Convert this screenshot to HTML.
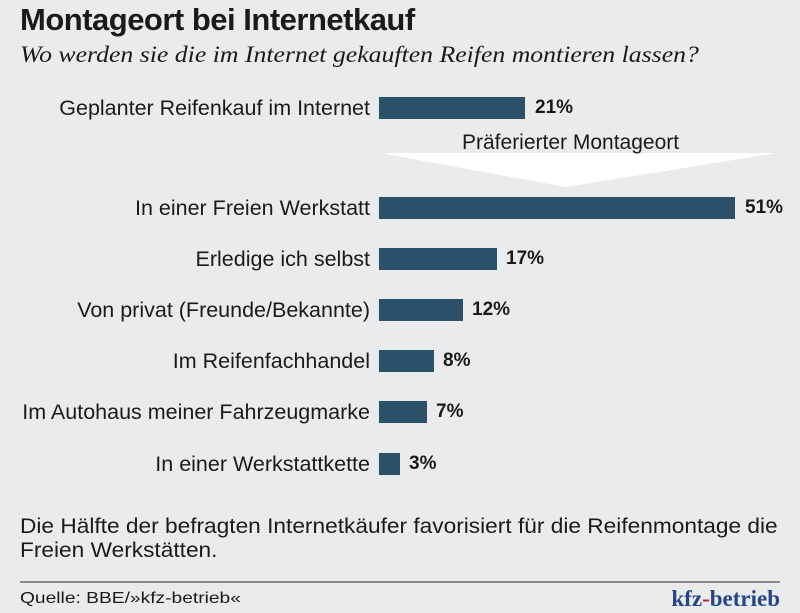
<!DOCTYPE html>
<html><head><meta charset="utf-8"><style>
body{margin:0;width:800px;height:613px;background:#e9ebed;overflow:hidden;position:relative;font-family:"Liberation Sans",sans-serif;color:#1a1a1a}
.a{position:absolute;white-space:nowrap}
.lab{position:absolute;right:430px;font-size:21.5px;line-height:22px}
.bar{position:absolute;left:379px;height:22px;background:#2b5169}
.val{position:absolute;font-size:19px;font-weight:bold;line-height:22px}
</style></head><body>
<div class="a" style="left:20px;top:2px;font-size:31px;font-weight:bold;letter-spacing:-0.5px">Montageort bei Internetkauf</div>
<div class="a" style="left:20px;top:42px;font-size:23px;font-style:italic;font-family:'Liberation Serif',serif;transform:scaleX(1.12);transform-origin:0 0">Wo werden sie die im Internet gekauften Reifen montieren lassen?</div>
<svg class="a" style="left:0;top:0" width="800" height="613"><polygon points="380,153 776,153 566,187" fill="#fff"/></svg>
<div class="a" style="left:462px;top:131px;font-size:21px">Präferierter Montageort</div>

<div class="lab" style="top:97px">Geplanter Reifenkauf im Internet</div><div class="bar" style="top:97px;width:146px"></div><div class="val" style="top:97px;left:535px">21%</div>
<div class="lab" style="top:197px">In einer Freien Werkstatt</div><div class="bar" style="top:197px;width:356px"></div><div class="val" style="top:197px;left:745px">51%</div>
<div class="lab" style="top:248px">Erledige ich selbst</div><div class="bar" style="top:248px;width:118px"></div><div class="val" style="top:248px;left:506px">17%</div>
<div class="lab" style="top:299px">Von privat (Freunde/Bekannte)</div><div class="bar" style="top:299px;width:84px"></div><div class="val" style="top:299px;left:472px">12%</div>
<div class="lab" style="top:350px">Im Reifenfachhandel</div><div class="bar" style="top:350px;width:55px"></div><div class="val" style="top:350px;left:443px">8%</div>
<div class="lab" style="top:401px">Im Autohaus meiner Fahrzeugmarke</div><div class="bar" style="top:401px;width:48px"></div><div class="val" style="top:401px;left:436px">7%</div>
<div class="lab" style="top:453px">In einer Werkstattkette</div><div class="bar" style="top:453px;width:21px"></div><div class="val" style="top:453px;left:409px">3%</div>

<div class="a" style="left:20px;top:515px;font-size:21px;line-height:24px;transform:scaleX(1.08);transform-origin:0 0">Die Hälfte der befragten Internetkäufer favorisiert für die Reifenmontage die<br>Freien Werkstätten.</div>
<div class="a" style="left:20px;top:581px;width:760px;height:2px;background:#888"></div>
<div class="a" style="left:20px;top:590px;font-size:16px;transform:scaleX(1.2);transform-origin:0 0">Quelle: BBE/»kfz-betrieb«</div>
<div class="a" style="right:20px;top:586px;font-size:23px;font-weight:bold;font-family:'Liberation Serif',serif;color:#27458a">kfz<span style="color:#c8202a">-</span>betrieb</div>
</body></html>
